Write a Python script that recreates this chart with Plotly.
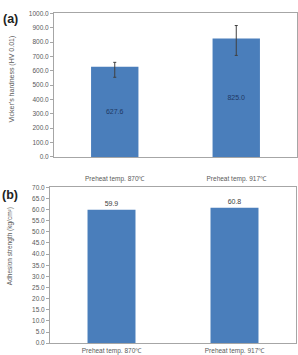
import plotly.graph_objects as go

categories = ["Preheat temp. 870\u2103", "Preheat temp. 917\u2103"]
hardness = [627.6, 825.0]
hardness_err_plus = [31, 90]
hardness_err_minus = [73, 118]
adhesion = [59.9, 60.8]

hard_ticks = [i * 100.0 for i in range(11)]
adh_ticks = [i * 5.0 for i in range(15)]

W, H = 298, 355
bar_color = "#4a7ebb"
font_family = "Liberation Sans, Arial, sans-serif"
gray = "#595959"

fig = go.Figure()
fig.add_trace(go.Bar(
    x=categories, y=hardness, width=0.39, marker_color=bar_color,
    marker_line_width=0,
    text=[f"{v:.1f}" for v in hardness], textposition="inside",
    insidetextanchor="middle", textfont=dict(size=7, color="#1f3864", family=font_family),
    error_y=dict(type="data", symmetric=False, array=hardness_err_plus,
                 arrayminus=hardness_err_minus, color="#404040", thickness=1, width=1.5),
    xaxis="x", yaxis="y", showlegend=False,
))
fig.add_trace(go.Bar(
    x=categories, y=adhesion, width=0.39, marker_color=bar_color,
    marker_line_width=0,
    text=[f"{v:.1f}" for v in adhesion], textposition="outside",
    textfont=dict(size=7, color="#404040", family=font_family),
    cliponaxis=False,
    xaxis="x2", yaxis="y2", showlegend=False,
))

def px_x(p):
    return p / W

def px_y(p):
    return 1 - p / H

axis_common = dict(showline=True, linecolor="#a6a6a6", linewidth=1, mirror=True,
                   showgrid=False, zeroline=False,
                   tickfont=dict(size=6.5, color=gray, family=font_family))

def label(text, x, y, size, color, angle=0):
    return dict(text=text, x=px_x(x), y=px_y(y), xref="paper", yref="paper",
                xanchor="center", yanchor="middle", textangle=angle,
                showarrow=False, font=dict(size=size, color=color, family=font_family))

fig.update_layout(
    width=W, height=H, margin=dict(l=0, r=0, t=0, b=0),
    paper_bgcolor="white", plot_bgcolor="white",
    font=dict(family=font_family),
    xaxis=dict(domain=[px_x(54), px_x(297)], anchor="y", ticks="", ticklabelstandoff=15,
               **axis_common),
    yaxis=dict(domain=[px_y(156), px_y(9.5)], anchor="x", range=[0, 1000],
               tickvals=hard_ticks, ticktext=[f"{v:.1f}" for v in hard_ticks],
               ticks="outside", ticklen=3, tickcolor="#a6a6a6", **axis_common),
    xaxis2=dict(domain=[px_x(50), px_x(296)], anchor="y2", ticks="", ticklabelstandoff=1,
                **axis_common),
    yaxis2=dict(domain=[px_y(346), px_y(187)], anchor="x2", range=[0, 70],
                tickvals=adh_ticks, ticktext=[f"{v:.1f}" for v in adh_ticks],
                ticks="outside", ticklen=3, tickcolor="#a6a6a6", **axis_common),
    annotations=[
        label("<b>(a)</b>", 10, 15, 12.5, "#222222"),
        label("<b>(b)</b>", 10, 195, 12.5, "#222222"),
        label("Vicker's hardness (HV 0.01)", 12, 77, 7, gray, -90),
        label("Adhesion strength (kg/cm\u00b2)", 10, 247, 6.5, gray, -90),
    ],
)

fig.write_html("out.html")
